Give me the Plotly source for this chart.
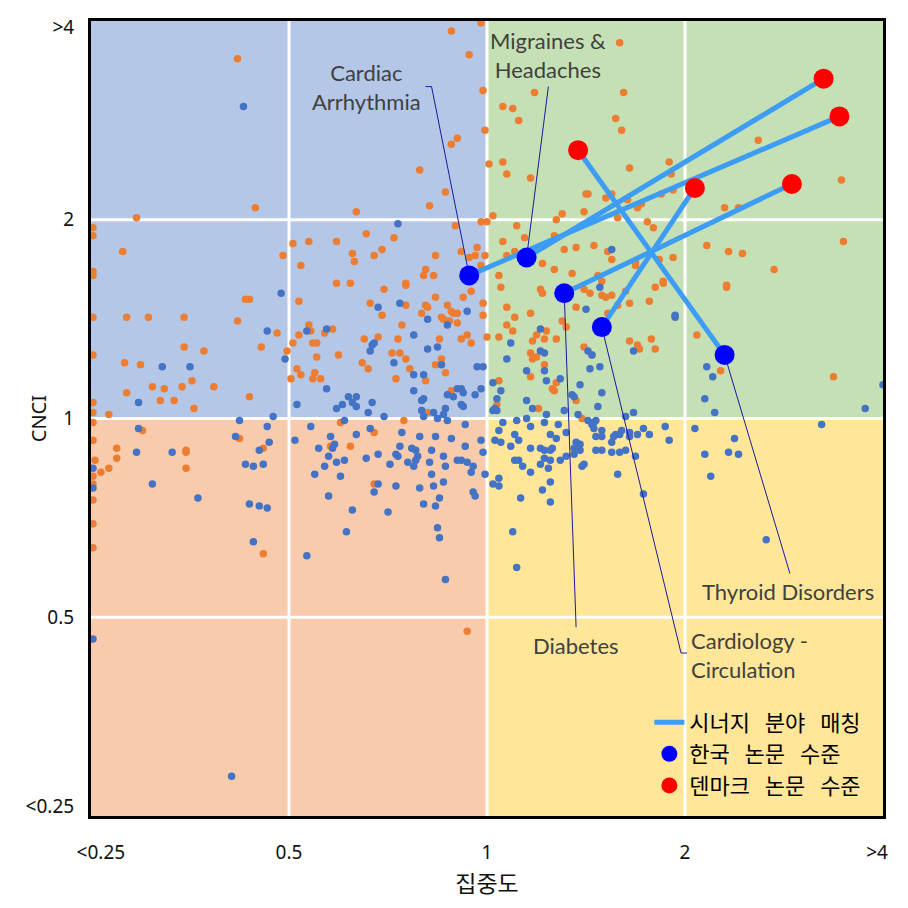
import plotly.graph_objects as go

# all positions are in log2 units of the ratio (0 = 1, -2 = 0.25, 2 = 4)
orange_x = [
    -1.26, -1.17, -1.77, -1.99, -1.99, -1.84, -0.98, -0.90, -0.76, -1.03, -0.94, -0.68, -0.67, -1.99, -1.99,
    -0.76, -0.69, -0.66, -0.03, -0.18, -0.09, -0.02, 0.08, 0.13, 0.16, 0.24, 0.67, 0.65, -0.01, -0.15,
    -0.18, 0.01, 0.08, 0.10, 0.22, -0.34, -0.21, -0.29, -0.03, 0.00, 0.03, 0.15, 0.35, 0.38, 0.49,
    0.50, 0.51, 0.63, 0.60, 0.66, -0.61, -0.47, -0.53, -0.57, -0.26, -0.16, -0.13, -0.09, -0.06, -0.05,
    -0.03, -0.01, -0.31, -0.32, -0.27, -0.41, 0.08, 0.10, 0.14, 0.19, 0.28, 0.34, 0.43, 0.34, 0.39,
    0.45, 0.54, 0.61, 0.63, 0.56, 0.58, 0.06, 0.69, 0.68, 1.37, 0.72, 0.92, 0.93, 0.94, 0.88,
    1.79, 0.71, 0.76, 0.78, 0.81, 0.84, 1.20, 1.27, 1.11, 1.22, 1.29, 1.80, 1.45, 0.87, 0.94,
    0.75, 0.75, 0.89, 1.21, -1.22, -1.20, -0.95, -1.99, -1.82, -1.71, -1.53, -1.26, -1.06, -0.90, -0.89,
    -0.82, -0.78, -0.95, -0.98, -0.88, -0.86, -1.53, -1.43, -1.14, -1.01, -0.86, -0.75, -1.99, -1.83, -1.75,
    -1.49, -0.96, -0.94, -0.87, -0.88, -0.84, -0.99, -1.82, -1.69, -1.63, -1.54, -1.38, -1.65, -1.58, -1.20,
    -1.48, -1.99, -1.99, -1.99, -1.91, -0.74, -1.74, -1.25, -1.99, -0.79, -0.69, -1.87, -1.87, -1.52, -1.52,
    -1.13, -1.98, -1.52, -1.95, -1.91, -1.99, -1.99, -1.99, -1.99, -1.99, -1.13, -0.10, -0.52, -0.41, -0.59,
    -0.41, -0.53, -0.26, -0.31, -0.33, -0.30, -0.20, -0.18, -0.17, -0.15, -0.12, -0.08, -0.02, -0.02, -0.23,
    -0.22, -0.19, -0.15, -0.43, -0.62, -0.55, -0.45, -0.24, -0.13, -0.10, -0.08, 0.00, -0.48, -0.44, -0.41,
    -0.63, -0.60, -0.26, -0.23, -0.39, -0.21, -0.46, -0.31, -0.18, -0.30, 0.07, 0.10, 0.14, 0.10, 0.13,
    0.22, 0.27, 0.28, 0.45, 0.49, 0.52, 0.58, 0.63, 0.60, 0.61, 0.38, 0.40, 0.25, 0.30, 0.06,
    0.23, 0.29, 0.35, 0.49, 0.53, 0.22, 0.23, 0.25, 0.29, 0.22, 0.35, 0.33, 0.34, 0.06, 0.45,
    0.05, 0.26, 0.48, -0.42, -0.57, -0.57, 0.85, 0.89, 0.70, 1.21, 0.66, 0.72, 0.82, 1.06, 0.72,
    0.76, 0.77, 0.83, 0.85, 1.18, 1.75,
]
orange_y = [
    1.81, 1.06, 1.01, 0.96, 0.92, 0.84, 0.88, 0.89, 0.89, 0.82, 0.77, 0.83, 0.79, 0.74, 0.72,
    0.68, 0.68, 1.04, 1.99, 1.95, 1.83, 1.65, 1.57, 1.56, 1.50, 1.64, 1.89, 1.51, 1.45, 1.41,
    1.38, 1.28, 1.29, 1.23, 1.21, 1.25, 1.14, 1.07, 0.99, 0.99, 1.02, 0.97, 1.00, 1.03, 1.04,
    1.13, 1.13, 1.13, 1.11, 1.01, 0.93, 0.91, 0.85, 0.82, 0.82, 0.97, 0.84, 0.81, 0.82, 0.86,
    0.77, 0.82, 0.75, 0.72, 0.72, 0.68, 0.89, 0.82, 0.84, 0.91, 0.78, 0.75, 0.73, 0.92, 0.85,
    0.86, 0.87, 0.84, 0.80, 0.72, 0.69, 0.72, 1.64, 1.45, 1.40, 1.26, 1.29, 1.23, 1.15, 1.13,
    1.20, 1.10, 1.06, 1.08, 0.99, 0.96, 1.06, 1.06, 0.87, 0.84, 0.83, 0.89, 0.75, 0.80, 0.81,
    0.79, 0.77, 0.69, 0.67, 0.60, 0.60, 0.59, 0.51, 0.51, 0.51, 0.51, 0.49, 0.43, 0.47, 0.44,
    0.43, 0.45, 0.42, 0.38, 0.38, 0.38, 0.36, 0.34, 0.36, 0.34, 0.31, 0.32, 0.32, 0.28, 0.27,
    0.19, 0.25, 0.22, 0.23, 0.20, 0.20, 0.20, 0.13, 0.16, 0.15, 0.16, 0.16, 0.09, 0.09, 0.11,
    0.05, 0.08, 0.03, -0.02, 0.02, -0.02, -0.06, -0.10, -0.11, -0.14, -0.14, -0.15, -0.20, -0.16, -0.17,
    -0.15, -0.21, -0.25, -0.27, -0.25, -0.29, -0.33, -0.41, -0.53, -0.65, -0.68, -1.07, 0.65, 0.67, 0.58,
    0.57, 0.52, 0.61, 0.57, 0.53, 0.56, 0.57, 0.54, 0.53, 0.53, 0.61, 0.64, 0.58, 0.52, 0.51,
    0.50, 0.49, 0.48, 0.47, 0.40, 0.41, 0.40, 0.40, 0.40, 0.42, 0.38, 0.41, 0.33, 0.33, 0.30,
    0.28, 0.25, 0.27, 0.30, 0.25, 0.23, 0.20, 0.19, 0.14, 0.03, 0.66, 0.56, 0.51, 0.47, 0.44,
    0.53, 0.65, 0.63, 0.56, 0.65, 0.63, 0.62, 0.62, 0.61, 0.53, 0.49, 0.46, 0.42, 0.44, 0.41,
    0.39, 0.40, 0.40, 0.36, 0.32, 0.33, 0.30, 0.31, 0.27, 0.21, 0.18, 0.15, 0.14, 0.19, 0.09,
    0.07, 0.05, 0.00, -0.01, -0.07, -0.33, 0.66, 0.68, 0.64, 0.66, 0.57, 0.58, 0.59, 0.42, 0.39,
    0.37, 0.35, 0.40, 0.35, 0.24, 0.21,
]
blue_x = [
    -1.23, -0.45, 0.63, -1.04, -1.11, -0.91, -0.81, -1.02, -1.64, -1.50, -1.76, -0.81, -0.70, -0.73, -0.76,
    -0.68, -0.66, -0.96, -1.25, -1.08, -0.72, -1.76, -1.11, -0.89, -1.27, -0.97, -1.10, -0.79, -0.77, -0.78,
    -0.85, -0.80, -0.82, -0.76, -0.72, -1.77, -1.59, -1.15, -1.22, -1.18, -1.13, -1.99, -1.99, -0.87, -0.74,
    -1.69, -1.46, -0.80, -1.20, -1.15, -1.11, -0.68, -0.71, -1.18, -0.55, -0.44, -0.10, -0.30, -0.20, -0.37,
    -0.57, -0.58, -0.59, -0.30, -0.25, -0.47, -0.23, -0.37, -0.32, -0.05, -0.02, -0.37, -0.32, -0.33, -0.20,
    -0.17, -0.15, -0.13, -0.12, -0.03, -0.06, -0.13, -0.12, -0.21, -0.22, -0.25, -0.20, -0.33, -0.32, -0.66,
    -0.58, -0.60, -0.52, -0.27, 0.57, 0.50, 0.27, 0.12, 0.51, 0.53, 0.27, 0.29, 0.10, 0.20, 0.29,
    0.52, 0.57, 0.37, 0.30, 0.03, 0.07, 0.47, 0.43, 0.44, 0.58, 0.05, 0.04, 0.05, 0.03, 0.20,
    0.23, 0.30, 0.39, 0.46, 0.56, 0.51, 0.55, 0.54, -0.59, -0.66, -0.43, -0.34, -0.26, -0.18, -0.11,
    -0.44, -0.38, -0.36, -0.28, -0.11, -0.03, -0.02, -0.55, -0.61, -0.46, -0.45, -0.35, -0.36, -0.37, -0.40,
    -0.29, -0.22, -0.21, -0.15, -0.13, -0.10, -0.07, -0.08, -0.49, -0.28, -0.22, -0.27, -0.34, -0.55, -0.57,
    -0.46, -0.07, -0.06, -0.24, -0.32, -0.26, -0.50, -0.25, -0.24, -0.01, 0.06, 0.08, 0.04, 0.07, 0.12,
    0.14, 0.16, 0.15, 0.20, 0.22, 0.29, 0.36, 0.40, 0.32, 0.35, 0.22, 0.27, 0.29, 0.33, 0.32,
    0.14, 0.16, 0.18, 0.22, 0.27, 0.29, 0.31, 0.32, 0.37, 0.40, 0.44, 0.45, 0.47, 0.44, 0.47,
    0.48, 0.49, 0.55, 0.58, 0.55, 0.58, 0.63, 0.63, 0.64, 0.65, 0.54, 0.53, 0.58, 0.03, 0.06,
    0.06, 0.17, 0.28, 0.32, 0.32, 0.66, 0.13, 0.95, 0.95, 0.74, 1.11, 1.14, 2.00, 1.10, 1.15,
    1.91, 0.74, 0.70, 1.69, 0.68, 0.67, 0.72, 0.76, 0.72, 0.79, 0.82, 0.90, 0.92, 1.05, 1.25,
    1.10, 1.22, 1.27, 0.67, 0.70, 0.75, 1.13, 0.79, 1.41, -0.91, -1.99, -1.29, -0.21, 0.15,
]
blue_y = [
    1.57, 0.98, 0.85, 0.63, 0.44, 0.44, 0.45, 0.30, 0.26, 0.26, 0.08, 0.15, 0.11, 0.07, 0.05,
    0.08, 0.11, 0.07, -0.01, 0.01, -0.01, -0.05, -0.04, -0.04, -0.09, -0.11, -0.12, -0.09, -0.13, -0.15,
    -0.15, -0.19, -0.24, -0.22, -0.21, -0.17, -0.17, -0.16, -0.23, -0.24, -0.23, -0.25, -0.35, -0.28, -0.29,
    -0.33, -0.40, -0.39, -0.43, -0.44, -0.45, -0.46, -0.57, -0.62, 0.56, 0.58, 0.54, 0.50, 0.47, 0.42,
    0.38, 0.37, 0.34, 0.35, 0.36, 0.28, 0.27, 0.22, 0.22, 0.26, 0.26, 0.14, 0.10, 0.09, 0.12,
    0.11, 0.15, 0.15, 0.13, 0.15, 0.12, 0.07, 0.06, 0.05, 0.02, 0.00, -0.01, 0.04, 0.01, 0.06,
    0.08, 0.03, 0.01, 0.03, 0.66, 0.55, 0.45, 0.38, 0.34, 0.32, 0.34, 0.33, 0.30, 0.24, 0.24,
    0.25, 0.26, 0.20, 0.19, 0.18, 0.14, 0.17, 0.12, 0.11, 0.13, 0.10, 0.05, 0.04, 0.04, 0.09,
    0.05, 0.02, 0.04, 0.02, 0.06, -0.01, -0.01, -0.02, -0.05, -0.08, -0.07, -0.09, -0.09, -0.10, -0.03,
    -0.14, -0.15, -0.16, -0.16, -0.14, -0.11, -0.17, -0.18, -0.20, -0.18, -0.19, -0.19, -0.21, -0.24, -0.22,
    -0.22, -0.19, -0.24, -0.21, -0.21, -0.22, -0.24, -0.27, -0.23, -0.28, -0.32, -0.34, -0.35, -0.33, -0.37,
    -0.34, -0.37, -0.39, -0.40, -0.43, -0.44, -0.47, -0.55, -0.60, -0.28, -0.06, -0.02, -0.11, -0.12, -0.14,
    -0.08, -0.11, -0.01, 0.00, -0.04, -0.02, -0.03, -0.07, -0.08, -0.10, -0.15, -0.15, -0.16, -0.15, -0.16,
    -0.21, -0.21, -0.24, -0.27, -0.23, -0.20, -0.25, -0.21, -0.21, -0.19, -0.18, -0.12, -0.13, -0.15, -0.16,
    -0.24, -0.23, -0.09, -0.09, -0.16, -0.16, -0.17, -0.12, -0.09, -0.08, -0.05, -0.03, -0.06, -0.33, -0.34,
    -0.30, -0.40, -0.36, -0.32, -0.42, -0.28, -0.57, 0.52, 0.51, 0.34, 0.26, 0.21, 0.17, 0.10, 0.03,
    0.05, 0.03, 0.01, -0.03, -0.06, -0.08, -0.07, -0.08, -0.09, -0.05, -0.08, -0.04, -0.11, -0.05, -0.10,
    -0.18, -0.17, -0.18, -0.17, -0.16, -0.19, -0.29, -0.38, -0.61, -0.69, -1.11, -1.80, -0.81, -0.75,
]

fields = ["Cardiac Arrhythmia", "Migraines & Headaches", "Diabetes", "Cardiology - Circulation", "Thyroid Disorders"]
korea_x = [-0.09, 0.20, 0.39, 0.58, 1.20]
korea_y = [0.72, 0.81, 0.63, 0.46, 0.32]
denmark_x = [1.78, 1.70, 1.54, 1.05, 0.46]
denmark_y = [1.52, 1.71, 1.18, 1.16, 1.35]

label_text = ["Cardiac<br>Arrhythmia", "Migraines &<br>Headaches", "Diabetes", "Cardiology -<br>Circulation", "Thyroid Disorders"]
label_pos = [(-0.61, 1.67, "center"), (0.31, 1.83, "center"), (0.45, -1.14, "center"), (1.02, -1.19, "left"), (1.52, -0.87, "center")]
# leader line bends, from the Korean marker out to the label
leader_pts = [
    [(-0.28, 1.67), (-0.31, 1.67)],
    [(0.31, 1.67)],
    [(0.45, -1.05)],
    [(0.98, -1.18), (1.01, -1.18)],
    [(1.53, -0.78)],
]

tick_vals_x = [-1.95, -1, 0, 1, 1.97]
tick_vals_y = [-1.95, -1, 0, 1, 1.97]
tick_text = ["<0.25", "0.5", "1", "2", ">4"]

quad_colors = {"tl": "#B4C7E7", "tr": "#C5E0B4", "bl": "#F8CBAD", "br": "#FFE699"}
sp = " \u00a0\u00a0"  # wider word gap, as in the original legend

fig = go.Figure()

fig.add_trace(go.Scatter(x=orange_x, y=orange_y, mode="markers", showlegend=False,
                         marker=dict(color="#ED7D31", size=7.5), hoverinfo="skip"))
fig.add_trace(go.Scatter(x=blue_x, y=blue_y, mode="markers", showlegend=False,
                         marker=dict(color="#4472C4", size=7.5), hoverinfo="skip"))

lx, ly = [], []
for i in range(len(fields)):
    lx += [korea_x[i], denmark_x[i], None]
    ly += [korea_y[i], denmark_y[i], None]
fig.add_trace(go.Scatter(x=lx, y=ly, mode="lines", name=sp.join(["시너지", "분야", "매칭"]),
                         line=dict(color="#3D9CF3", width=5)))

ldx, ldy = [], []
for i in range(len(fields)):
    ldx += [korea_x[i]] + [p[0] for p in leader_pts[i]] + [None]
    ldy += [korea_y[i]] + [p[1] for p in leader_pts[i]] + [None]
fig.add_trace(go.Scatter(x=ldx, y=ldy, mode="lines", showlegend=False,
                         line=dict(color="#1A1A9C", width=1), hoverinfo="skip"))

fig.add_trace(go.Scatter(x=korea_x, y=korea_y, mode="markers", name=sp.join(["한국", "논문", "수준"]),
                         marker=dict(color="#0000FF", size=20), text=fields))
fig.add_trace(go.Scatter(x=denmark_x, y=denmark_y, mode="markers", name=sp.join(["덴마크", "논문", "수준"]),
                         marker=dict(color="#FF0000", size=20), text=fields))

# quadrant backgrounds
for key, (x0, x1, y0, y1) in {"tl": (-2, 0, 0, 2), "tr": (0, 2, 0, 2),
                              "bl": (-2, 0, -2, 0), "br": (0, 2, -2, 0)}.items():
    fig.add_shape(type="rect", x0=x0, x1=x1, y0=y0, y1=y1, layer="below",
                  fillcolor=quad_colors[key], line_width=0)
for v in [-1, 0, 1]:
    fig.add_shape(type="line", x0=v, x1=v, y0=-2, y1=2, layer="below", line=dict(color="white", width=3))
    fig.add_shape(type="line", x0=-2, x1=2, y0=v, y1=v, layer="below", line=dict(color="white", width=3))

for txt, (x, y, al) in zip(label_text, label_pos):
    fig.add_annotation(x=x, y=y, text=txt, showarrow=False, align=al,
                       xanchor=al if al == "left" else "center",
                       font=dict(family="Lato", size=22, color="#404040"))

# y axis title, placed by hand like the original
fig.add_annotation(xref="paper", yref="paper", x=-0.066, y=0.5, xanchor="center", yanchor="middle",
                   text="CNCI", textangle=-90, showarrow=False,
                   font=dict(family="Noto Sans", size=20, color="#111"))

fig.update_xaxes(range=[-2, 2], tickvals=tick_vals_x, ticktext=tick_text, showgrid=False, zeroline=False,
                 showline=True, mirror=True, linecolor="black", linewidth=3,
                 ticklabelstandoff=17, tickfont=dict(family="Noto Sans", size=19, color="#111"),
                 title=dict(text="집중도", font=dict(family="Noto Sans CJK KR", size=23, color="#111"), standoff=6))
fig.update_yaxes(range=[-2, 2], tickvals=tick_vals_y, ticktext=tick_text, showgrid=False, zeroline=False,
                 showline=True, mirror=True, linecolor="black", linewidth=3,
                 ticklabelstandoff=10, tickfont=dict(family="Noto Sans", size=19, color="#111"))

fig.update_layout(
    width=908, height=908,
    margin=dict(l=83, r=33, t=13, b=100, autoexpand=False),
    paper_bgcolor="white", plot_bgcolor="white",
    legend=dict(x=0.705, y=0.012, xanchor="left", yanchor="bottom", bgcolor="rgba(0,0,0,0)",
                font=dict(family="Noto Sans CJK KR", size=22, color="black"), tracegroupgap=0),
)

fig.write_html("out.html")
